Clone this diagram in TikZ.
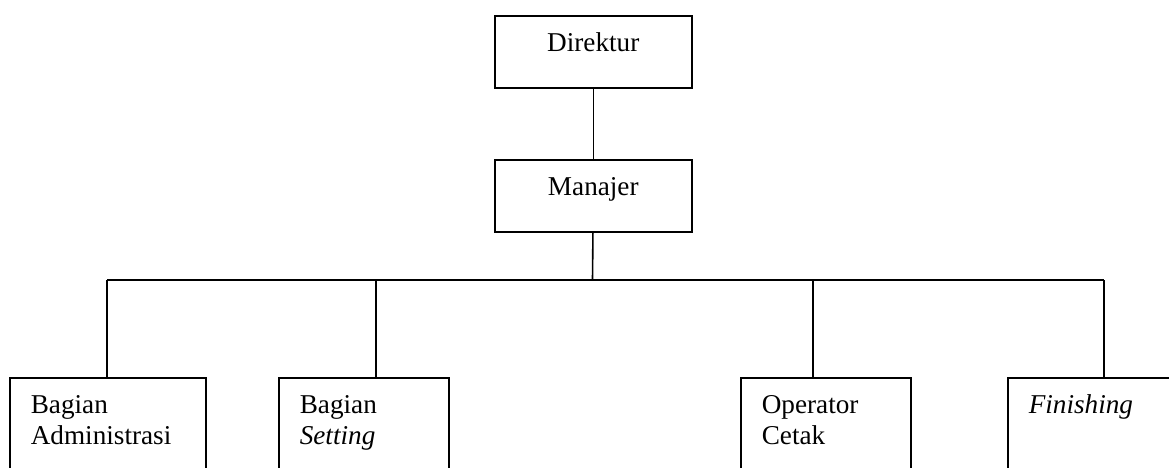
\documentclass[tikz,border=0pt]{standalone}
\usepackage{fontspec}
\setmainfont{Liberation Serif}
\tikzset{
  headbox/.style={draw, anchor=north west, inner sep=0pt, minimum width=98.5pt,
    text height=18pt, text depth=18pt},
  unitbox/.style={draw, anchor=north west, inner xsep=10.5pt, inner ysep=0pt,
    text width=#1-21pt, align=left, text height=18pt, text depth=120pt}
}
\begin{document}
\begin{tikzpicture}[x=0.5pt, y=-0.5pt, line width=0.8pt,
    font=\fontsize{13.6}{15.5}\selectfont]
  \useasboundingbox (0,0) rectangle (1169,467);
  \clip (0,0) rectangle (1169,467);
  \node[headbox] (direktur) at (494,15) {Direktur};
  \node[headbox] (manajer) at (494,159) {Manajer};
  \node[unitbox=98pt] (admin) at (9,377) {Bagian\\Administrasi};
  \node[unitbox=85pt] (setting) at (278,377) {Bagian\\\emph{Setting}};
  \node[unitbox=85pt] (operator) at (740,377) {Operator\\Cetak};
  \node[unitbox=110pt] (finishing) at (1007,377) {\emph{Finishing}};
  \coordinate (bus) at (592.5,280);
  \coordinate (jadmin) at (107,280);
  \coordinate (jsetting) at (376,280);
  \coordinate (joperator) at (813,280);
  \coordinate (jfinishing) at (1104,280);
  \begin{scope}[-]
    \draw (direktur) -- (manajer);
    \draw (manajer) -- (bus);
    \draw (jadmin) -- (jfinishing);
    \draw (jadmin) -- (jadmin |- admin.north);
    \draw (jsetting) -- (jsetting |- setting.north);
    \draw (joperator) -- (joperator |- operator.north);
    \draw (jfinishing) -- (jfinishing |- finishing.north);
  \end{scope}
\end{tikzpicture}
\end{document}
